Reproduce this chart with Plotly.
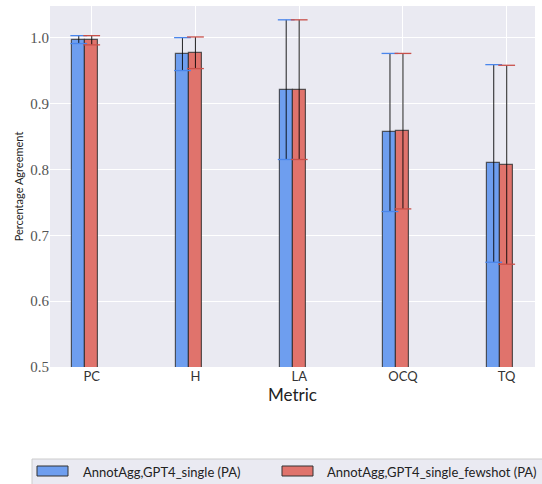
import plotly.graph_objects as go

# Percentage agreement per metric for the two annotator/LLM pairings
metrics = ["PC", "H", "LA", "OCQ", "TQ"]
single_pa = [0.997, 0.975, 0.921, 0.856, 0.809]
single_err = [0.006, 0.025, 0.106, 0.120, 0.150]
fewshot_pa = [0.996, 0.977, 0.921, 0.858, 0.807]
fewshot_err = [0.007, 0.024, 0.106, 0.118, 0.151]
series_names = ["AnnotAgg,GPT4_single (PA)", "AnnotAgg,GPT4_single_fewshot (PA)"]
y_ticks = [0.5, 0.6, 0.7, 0.8, 0.9, 1.0]

BLUE = "#6E9EEF"
RED = "#E0736C"
CAP_BLUE = "#4A86EC"
CAP_RED = "#C9504A"
EDGE = "rgba(40,40,40,0.75)"
BAR_W = 0.125

W, H = 542, 484
M_L, M_R, M_T, M_B = 50, 7, 6, 117
PW = W - M_L - M_R
PH = H - M_T - M_B

x_idx = list(range(len(metrics)))
x_single = [i - BAR_W for i in x_idx]
x_few = [i for i in x_idx]

fig = go.Figure()

for xs, vals, errs, color, cap, name in [
    (x_single, single_pa, single_err, BLUE, CAP_BLUE, series_names[0]),
    (x_few, fewshot_pa, fewshot_err, RED, CAP_RED, series_names[1]),
]:
    fig.add_trace(go.Bar(
        x=xs, y=vals, width=BAR_W, name=name,
        marker=dict(color=color, line=dict(color=EDGE, width=1.2)),
        error_y=dict(type="data", array=errs, visible=True,
                     color="rgba(0,0,0,0.8)", thickness=1.1, width=0),
        base=0, showlegend=False,
    ))
    # coloured caps at both ends of each error bar
    cap_x = xs + xs
    cap_y = [v + e for v, e in zip(vals, errs)] + [v - e for v, e in zip(vals, errs)]
    fig.add_trace(go.Scatter(
        x=cap_x, y=cap_y, mode="markers", showlegend=False, hoverinfo="skip",
        marker=dict(symbol="line-ew", size=12, line=dict(color=cap, width=1.3)),
    ))


def px_x(px):
    return (px - M_L) / PW


def px_y(py):
    return (H - M_B - py) / PH


shapes = [
    # legend frame
    dict(type="rect", xref="paper", yref="paper",
         x0=px_x(32), x1=px_x(560), y0=px_y(490), y1=px_y(459),
         fillcolor="#EAEAF2", line=dict(color="#CCCCCC", width=1), layer="above"),
    dict(type="rect", xref="paper", yref="paper",
         x0=px_x(37), x1=px_x(68), y0=px_y(476), y1=px_y(466),
         fillcolor=BLUE, line=dict(color="#333333", width=1), layer="above"),
    dict(type="rect", xref="paper", yref="paper",
         x0=px_x(282), x1=px_x(313), y0=px_y(476), y1=px_y(466),
         fillcolor=RED, line=dict(color="#333333", width=1), layer="above"),
]

annotations = [
    dict(text=series_names[0], xref="paper", yref="paper", x=px_x(81), y=px_y(471.5),
         xanchor="left", yanchor="middle", showarrow=False,
         font=dict(family="Lato", size=13, color="#222222")),
    dict(text=series_names[1], xref="paper", yref="paper", x=px_x(325), y=px_y(471.5),
         xanchor="left", yanchor="middle", showarrow=False,
         font=dict(family="Lato", size=13, color="#222222")),
]

fig.update_layout(
    width=W, height=H,
    margin=dict(l=M_L, r=M_R, t=M_T, b=M_B, pad=0),
    paper_bgcolor="white", plot_bgcolor="#EAEAF2",
    barmode="overlay", bargap=0,
    shapes=shapes, annotations=annotations,
    xaxis=dict(
        range=[-0.402, 4.273], tickmode="array", tickvals=x_idx, ticktext=metrics,
        showgrid=True, gridcolor="white", gridwidth=1, zeroline=False,
        showline=False, ticks="", ticklen=0,
        tickfont=dict(family="Lato", size=13, color="#333333"),
        title=dict(text="Metric", standoff=0,
                   font=dict(family="Lato", size=17, color="#222222")),
    ),
    yaxis=dict(
        range=[0.5, 1.048], tickmode="array", tickvals=y_ticks,
        tickformat=".1f", showgrid=True, gridcolor="white", gridwidth=1,
        zeroline=False, showline=False, ticks="", ticklen=0,
        tickfont=dict(family="Liberation Serif", size=15, color="#555555"),
        title=dict(text="Percentage Agreement", standoff=4,
                   font=dict(family="Lato", size=11, color="#222222")),
    ),
)

fig.write_html("out.html")
